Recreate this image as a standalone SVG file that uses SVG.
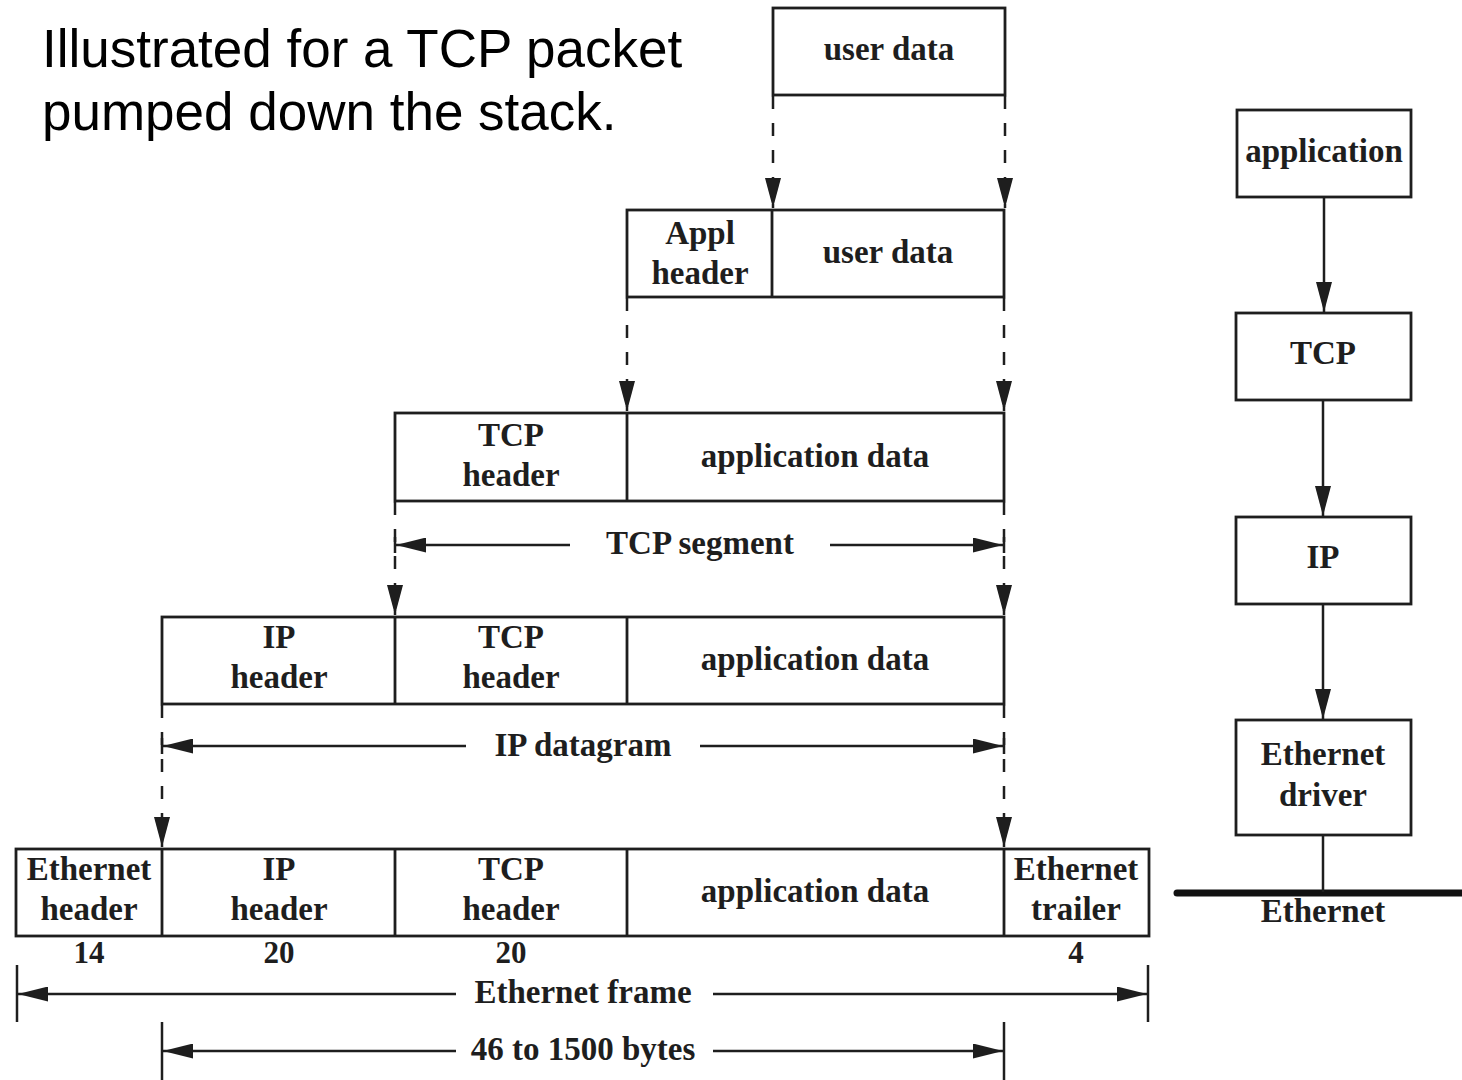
<svg xmlns="http://www.w3.org/2000/svg" width="1462" height="1080" viewBox="0 0 1462 1080">
  <style>
    .box { fill: #fff; stroke: #1e1e1e; stroke-width: 2.8; }
    .div { stroke: #1e1e1e; stroke-width: 2.8; }
    .lbl { font-family: "Liberation Serif", "DejaVu Serif", serif; font-weight: bold; font-size: 33px; fill: #1e1e1e; text-anchor: middle; }
    .num { font-family: "Liberation Serif", "DejaVu Serif", serif; font-weight: bold; font-size: 31px; fill: #1e1e1e; text-anchor: middle; }
    .title { font-family: "Liberation Sans", Arial, sans-serif; font-size: 53px; fill: #000; }
    .dash { stroke: #1e1e1e; stroke-width: 2.5; fill: none; stroke-dasharray: 13 14; marker-end: url(#down); }
    .flow { stroke: #1e1e1e; stroke-width: 2.5; fill: none; marker-end: url(#down); }
    .dim { stroke: #1e1e1e; stroke-width: 2.5; fill: none; marker-end: url(#dimhead); }
    .tick { stroke: #1e1e1e; stroke-width: 2.5; }
    .wire { stroke: #111; stroke-width: 7; stroke-linecap: round; }
  </style>
  <defs>
    <marker id="down" viewBox="0 0 30 16" refX="30" refY="8" markerWidth="30" markerHeight="16" markerUnits="userSpaceOnUse" orient="auto">
      <path d="M0,0 L30,8 L0,16 z" fill="#1e1e1e"/>
    </marker>
    <marker id="dimhead" viewBox="0 0 30 15" refX="30" refY="7.5" markerWidth="30" markerHeight="15" markerUnits="userSpaceOnUse" orient="auto">
      <path d="M0,0 L30,7.5 L0,15 z" fill="#1e1e1e"/>
    </marker>
  </defs>
  <rect width="1462" height="1080" fill="#fff"/>

  <g id="title">
    <text class="title" x="42" y="67">Illustrated for a TCP packet</text>
    <text class="title" x="42" y="130">pumped down the stack.</text>
  </g>

  <!-- encapsulation rows -->
  <g id="row-user">
    <rect class="box" x="773" y="8" width="232" height="87"/>
    <text class="lbl" x="889" y="60">user data</text>
  </g>

  <g id="row-appl">
    <rect class="box" x="627" y="210" width="377" height="87"/>
    <line class="div" x1="772" y1="210" x2="772" y2="297"/>
    <text class="lbl" x="700" y="244">Appl</text>
    <text class="lbl" x="700" y="284">header</text>
    <text class="lbl" x="888" y="263">user data</text>
  </g>

  <g id="row-tcp">
    <rect class="box" x="395" y="413" width="609" height="88"/>
    <line class="div" x1="627" y1="413" x2="627" y2="501"/>
    <text class="lbl" x="511" y="446">TCP</text>
    <text class="lbl" x="511" y="486">header</text>
    <text class="lbl" x="815" y="467">application data</text>
  </g>

  <g id="row-ip">
    <rect class="box" x="162" y="617" width="842" height="87"/>
    <line class="div" x1="395" y1="617" x2="395" y2="704"/>
    <line class="div" x1="627" y1="617" x2="627" y2="704"/>
    <text class="lbl" x="279" y="648">IP</text>
    <text class="lbl" x="279" y="688">header</text>
    <text class="lbl" x="511" y="648">TCP</text>
    <text class="lbl" x="511" y="688">header</text>
    <text class="lbl" x="815" y="670">application data</text>
  </g>

  <g id="row-ether">
    <rect class="box" x="16" y="849" width="1133" height="87"/>
    <line class="div" x1="162" y1="849" x2="162" y2="936"/>
    <line class="div" x1="395" y1="849" x2="395" y2="936"/>
    <line class="div" x1="627" y1="849" x2="627" y2="936"/>
    <line class="div" x1="1004" y1="849" x2="1004" y2="936"/>
    <text class="lbl" x="89" y="880">Ethernet</text>
    <text class="lbl" x="89" y="920">header</text>
    <text class="lbl" x="279" y="880">IP</text>
    <text class="lbl" x="279" y="920">header</text>
    <text class="lbl" x="511" y="880">TCP</text>
    <text class="lbl" x="511" y="920">header</text>
    <text class="lbl" x="815" y="902">application data</text>
    <text class="lbl" x="1076" y="880">Ethernet</text>
    <text class="lbl" x="1076" y="920">trailer</text>
    <text class="num" x="89" y="963">14</text>
    <text class="num" x="279" y="963">20</text>
    <text class="num" x="511" y="963">20</text>
    <text class="num" x="1076" y="963">4</text>
  </g>

  <!-- protocol stack -->
  <g id="stack-app">
    <rect class="box" x="1237" y="110" width="174" height="87"/>
    <text class="lbl" x="1324" y="162">application</text>
  </g>
  <g id="stack-tcp">
    <rect class="box" x="1236" y="313" width="175" height="87"/>
    <text class="lbl" x="1323" y="364">TCP</text>
  </g>
  <g id="stack-ip">
    <rect class="box" x="1236" y="517" width="175" height="87"/>
    <text class="lbl" x="1323" y="568">IP</text>
  </g>
  <g id="stack-eth">
    <rect class="box" x="1236" y="720" width="175" height="115"/>
    <text class="lbl" x="1323" y="765">Ethernet</text>
    <text class="lbl" x="1323" y="806">driver</text>
  </g>
  <g id="ethernet-wire">
    <line class="wire" x1="1177" y1="893" x2="1462" y2="893"/>
    <text class="lbl" x="1323" y="922">Ethernet</text>
  </g>

  <g id="connectors">
    <!-- dashed drops between layers -->
    <line class="dash" x1="773" y1="96" x2="773" y2="208"/>
    <line class="dash" x1="1005" y1="96" x2="1005" y2="208"/>
    <line class="dash" x1="627" y1="298" x2="627" y2="411"/>
    <line class="dash" x1="1004" y1="298" x2="1004" y2="411"/>
    <line class="dash" x1="395" y1="502" x2="395" y2="615"/>
    <line class="dash" x1="1004" y1="502" x2="1004" y2="615"/>
    <line class="dash" x1="162" y1="705" x2="162" y2="847"/>
    <line class="dash" x1="1004" y1="705" x2="1004" y2="847"/>

    <!-- TCP segment span -->
    <line class="tick" x1="395" y1="537" x2="395" y2="553"/>
    <line class="tick" x1="1004" y1="537" x2="1004" y2="553"/>
    <line class="dim" x1="570" y1="545" x2="396" y2="545"/>
    <line class="dim" x1="830" y1="545" x2="1003" y2="545"/>
    <text class="lbl" x="700" y="554">TCP segment</text>

    <!-- IP datagram span -->
    <line class="tick" x1="162" y1="738" x2="162" y2="754"/>
    <line class="tick" x1="1004" y1="738" x2="1004" y2="754"/>
    <line class="dim" x1="466" y1="746" x2="163" y2="746"/>
    <line class="dim" x1="700" y1="746" x2="1003" y2="746"/>
    <text class="lbl" x="583" y="756">IP datagram</text>

    <!-- Ethernet frame span -->
    <line class="tick" x1="17" y1="965" x2="17" y2="1022"/>
    <line class="tick" x1="1148" y1="965" x2="1148" y2="1022"/>
    <line class="dim" x1="456" y1="994" x2="18" y2="994"/>
    <line class="dim" x1="713" y1="994" x2="1147" y2="994"/>
    <text class="lbl" x="583" y="1003">Ethernet frame</text>

    <!-- payload span -->
    <line class="tick" x1="162" y1="1022" x2="162" y2="1080"/>
    <line class="tick" x1="1004" y1="1022" x2="1004" y2="1080"/>
    <line class="dim" x1="456" y1="1051" x2="163" y2="1051"/>
    <line class="dim" x1="713" y1="1051" x2="1003" y2="1051"/>
    <text class="lbl" x="583" y="1060">46 to 1500 bytes</text>

    <!-- stack arrows -->
    <line class="flow" x1="1324" y1="198" x2="1324" y2="312"/>
    <line class="flow" x1="1323" y1="401" x2="1323" y2="516"/>
    <line class="flow" x1="1323" y1="605" x2="1323" y2="719"/>
    <line class="tick" x1="1323" y1="836" x2="1323" y2="892"/>
  </g>
</svg>
